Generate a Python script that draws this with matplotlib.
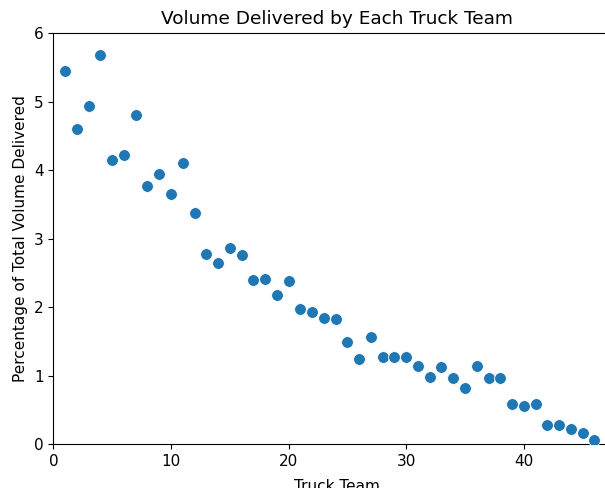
import matplotlib
matplotlib.use("Agg")
import matplotlib.pyplot as plt

# Share of total volume (%) delivered by each truck team
teams = list(range(1, 47))
volume_pct = [
    5.45, 4.60, 4.94, 5.68, 4.15, 4.22, 4.81, 3.77, 3.95, 3.66,
    4.10, 3.38, 2.78, 2.65, 2.86, 2.76, 2.40, 2.42, 2.18, 2.38,
    1.98, 1.93, 1.84, 1.83, 1.50, 1.25, 1.57, 1.28, 1.28, 1.28,
    1.15, 0.98, 1.13, 0.97, 0.82, 1.15, 0.97, 0.97, 0.59, 0.56,
    0.59, 0.28, 0.28, 0.23, 0.165, 0.06,
]

fig = plt.figure(figsize=(6.05, 4.88), dpi=100)
# the reference is cropped on the right, so the axes run past the figure edge
ax = fig.add_axes([53.4 / 605, 43.7 / 488, 567.4 / 605, 411.0 / 488])

ax.scatter(teams, volume_pct, s=72, color="#1f77b4", edgecolor="white", linewidth=0.6, zorder=3)

ax.set_xlim(0, 48.25)
ax.set_ylim(0, 6)
ax.set_title("Volume Delivered by Each Truck Team", fontsize=13.3, pad=7)
ax.set_xlabel("Truck Team", fontsize=11, labelpad=7)
ax.set_ylabel("Percentage of Total Volume Delivered", fontsize=11)
ax.tick_params(labelsize=11)

fig.savefig("out.png", dpi=100)
